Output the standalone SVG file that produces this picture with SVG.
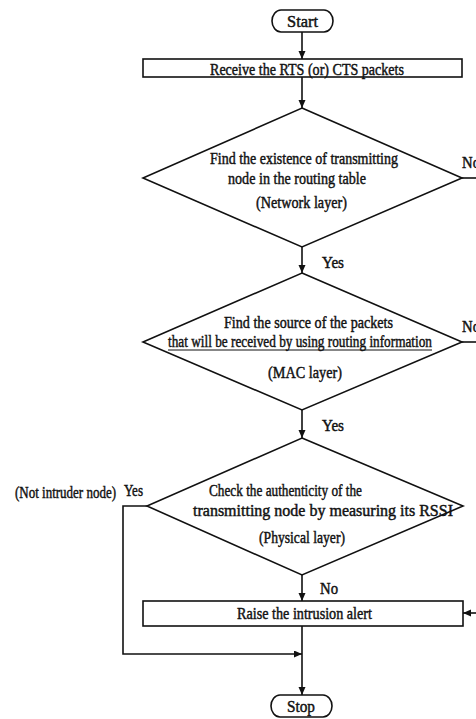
<svg xmlns="http://www.w3.org/2000/svg" width="476" height="719" viewBox="0 0 476 719">
<defs>
<marker id="ah" markerUnits="userSpaceOnUse" markerWidth="8" markerHeight="8" refX="8" refY="3.5" orient="auto">
<path d="M0,0 L8,3.5 L0,7 z" fill="#111"/>
</marker>
<style>
.s{fill:#fff;stroke:#111;stroke-width:1.6}
.c{fill:none;stroke:#111;stroke-width:1.6}
.u{fill:none;stroke:#111;stroke-width:1.1}
.a{marker-end:url(#ah)}
text{font-family:"Liberation Serif","Times New Roman",serif;font-size:16.5px;fill:#111;stroke:#111;stroke-width:0.45}
</style>
</defs>
<rect width="476" height="719" fill="#fff"/>
<g id="connectors">
<line class="c a" x1="302" y1="32" x2="302" y2="59"/>
<line class="c a" x1="302" y1="77" x2="302" y2="108"/>
<line class="c a" x1="302" y1="247" x2="302" y2="273"/>
<line class="c a" x1="302" y1="410" x2="302" y2="438"/>
<line class="c a" x1="302" y1="575" x2="302" y2="601"/>
<line class="c" x1="462" y1="178" x2="476" y2="178"/>
<line class="c" x1="462" y1="342" x2="476" y2="342"/>
<line class="c a" x1="478" y1="613" x2="463" y2="613"/>
<polyline class="c a" points="147,506 123,506 123,654 302,654"/>
<line class="c a" x1="302" y1="626" x2="302" y2="695"/>
<text x="322" y="268" textLength="22" lengthAdjust="spacingAndGlyphs">Yes</text>
<text x="322" y="431" textLength="22" lengthAdjust="spacingAndGlyphs">Yes</text>
<text x="320" y="594" textLength="18" lengthAdjust="spacingAndGlyphs">No</text>
<text x="462" y="168" textLength="18" lengthAdjust="spacingAndGlyphs">No</text>
<text x="462" y="332" textLength="18" lengthAdjust="spacingAndGlyphs">No</text>
<text x="15" y="498" textLength="101" lengthAdjust="spacingAndGlyphs">(Not intruder node)</text>
<text x="124" y="496" textLength="19" lengthAdjust="spacingAndGlyphs">Yes</text>
</g>
<g id="start">
<rect class="s" x="272" y="10" width="61" height="22" rx="9" ry="11"/>
<text x="287" y="27" textLength="31" lengthAdjust="spacingAndGlyphs">Start</text>
</g>
<g id="receive">
<rect class="s" x="143" y="59" width="319" height="18"/>
<text x="210" y="74.5" textLength="194" lengthAdjust="spacingAndGlyphs">Receive the RTS (or) CTS packets</text>
</g>
<g id="decision1">
<polygon class="s" points="302,108 462,178 302,247 143,178"/>
<text x="210" y="163.5" textLength="188" lengthAdjust="spacingAndGlyphs">Find the existence of transmitting</text>
<text x="228" y="183.5" textLength="138" lengthAdjust="spacingAndGlyphs">node in the routing table</text>
<text x="256" y="208" textLength="91" lengthAdjust="spacingAndGlyphs">(Network layer)</text>
</g>
<g id="decision2">
<polygon class="s" points="302,273 462,342 302,410 143,342"/>
<text x="224" y="328" textLength="169" lengthAdjust="spacingAndGlyphs">Find the source of the packets</text>
<text x="168" y="347" textLength="264" lengthAdjust="spacingAndGlyphs">that will be received by using routing information</text>
<line class="u" x1="168" y1="350" x2="432" y2="350"/>
<text x="268" y="378" textLength="74" lengthAdjust="spacingAndGlyphs">(MAC layer)</text>
</g>
<g id="decision3">
<polygon class="s" points="302,438 463,506 302,575 147,506"/>
<text x="209" y="495.5" textLength="153" lengthAdjust="spacingAndGlyphs">Check the authenticity of the</text>
<text x="193" y="516" textLength="260" lengthAdjust="spacingAndGlyphs">transmitting node by measuring its RSSI</text>
<text x="259" y="542.5" textLength="86" lengthAdjust="spacingAndGlyphs">(Physical layer)</text>
</g>
<g id="alert">
<rect class="s" x="143" y="601" width="320" height="25"/>
<text x="237" y="619" textLength="135" lengthAdjust="spacingAndGlyphs">Raise the intrusion alert</text>
</g>
<g id="stop">
<rect class="s" x="271" y="695" width="61" height="22" rx="9" ry="11"/>
<text x="287" y="712" textLength="28" lengthAdjust="spacingAndGlyphs">Stop</text>
</g>
</svg>
